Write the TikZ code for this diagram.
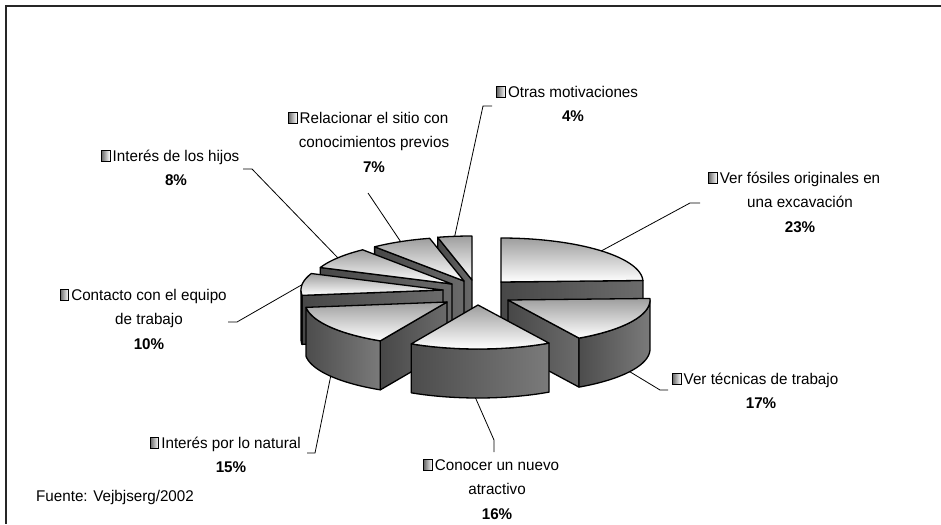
\documentclass[tikz,border=0pt]{standalone}
\usepackage{fontspec}
\setmainfont{Liberation Sans}[FakeStretch=0.98]
\usetikzlibrary{calc}

% pie size (px)
\newcommand{\pierx}{142}
\newcommand{\piery}{44}
\newcommand{\pieh}{49}

% legend key in front of a label
\newcommand{\keysq}{\llap{\tikz[baseline=0pt]\draw[line width=0.6pt, left color=black!60, right color=white] (0pt,-0.5pt) rectangle (8.5pt,10.5pt);\hspace{2.5pt}}}

% faces of one slice: apex x, apex y, angles (clockwise from top)
\newcommand{\pietop}[4]{%
  \draw[topface] (#1,#2) -- plot[domain=#3:#4, samples=40] ({#1+\pierx*sin(\x)},{#2-\piery*cos(\x)}) -- cycle;}
\newcommand{\pieside}[3]{%
  \draw[sideface] (#1,#2) -- ({#1+\pierx*sin(#3)},{#2-\piery*cos(#3)}) -- ++(0,\pieh) -- (#1,#2+\pieh) -- cycle;}
\newcommand{\piewall}[4]{%
  \draw[wallface] plot[domain=#3:#4, samples=40] ({#1+\pierx*sin(\x)},{#2-\piery*cos(\x)}) -- plot[domain=#4:#3, samples=40] ({#1+\pierx*sin(\x)},{#2-\piery*cos(\x)+\pieh}) -- cycle;}

\begin{document}
\begin{tikzpicture} [
    x=1pt, y=-1pt,
    topface/.style={draw=black, line width=1.3pt, line join=round, top color=black!38, bottom color=white},
    sideface/.style={draw=black, line width=1.3pt, line join=round, left color=black!72, right color=black!58},
    wallface/.style={draw=black, line width=1.3pt, line join=round, left color=black!70, right color=black!52},
    label/.style={font=\fontsize{15.5}{24.5}\selectfont, align=center, inner sep=0pt, anchor=base},
    leader/.style={draw=black, line width=0.8pt},
    frame/.style={draw=black!85, line width=2pt}
]
\useasboundingbox (0,0) rectangle (941,524);
\draw[frame] (941,6.5) -| (5.5,524);

% slices, back to front
\pieside{472}{280}{346} \pietop{472}{280}{346}{360}
\pieside{464}{281}{321} \pietop{464}{281}{321}{346}
\pieside{501}{282}{88}  \pietop{501}{282}{0}{88}
\pieside{452}{284}{292} \pietop{452}{284}{292}{321}
\pieside{443}{290}{263} \piewall{443}{290}{263}{270} \pietop{443}{290}{263}{292}
\pieside{508}{300}{150} \piewall{508}{300}{90}{150}  \pietop{508}{300}{88}{150}
\pieside{447}{302}{208} \piewall{447}{302}{208}{263} \pietop{447}{302}{208}{263}
\piewall{478}{305}{150}{208} \pietop{478}{305}{150}{208}

% labels (base = last line)
\node[label] (otras) at (573,121.5) {\keysq Otras motivaciones\\\textbf{4\%}};
\node[label] (relac) at (374,172) {\keysq Relacionar el sitio con\\conocimientos previos\\\textbf{7\%}};
\node[label] (hijos) at (176,185.5) {\keysq Interés de los hijos\\\textbf{8\%}};
\node[label] (contacto) at (149,349) {\keysq Contacto con el equipo\\de trabajo\\\textbf{10\%}};
\node[label] (natural) at (231,472.5) {\keysq Interés por lo natural\\\textbf{15\%}};
\node[label] (conocer) at (497,519) {\keysq Conocer un nuevo\\atractivo\\\textbf{16\%}};
\node[label] (tecnicas) at (761,408.5) {\keysq Ver técnicas de trabajo\\\textbf{17\%}};
\node[label] (fosiles) at (800,232) {\keysq Ver fósiles originales en\\una excavación\\\textbf{23\%}};
\node[label, anchor=base west] (fuente) at (36,501) {Fuente: Vejbjserg/2002};

% leader lines
\coordinate (rimH) at ({472+\pierx*sin(353)},{280-\piery*cos(353)});
\coordinate (rimG) at ({464+\pierx*sin(333.5)},{281-\piery*cos(333.5)});
\coordinate (rimF) at ({452+\pierx*sin(306.5)},{284-\piery*cos(306.5)});
\coordinate (rimE) at ({443+\pierx*sin(277)},{290-\piery*cos(277)});
\coordinate (rimD) at ({447+\pierx*sin(235)},{302+\pieh-\piery*cos(235)});
\coordinate (rimC) at ({478+\pierx*sin(181)},{305+\pieh-\piery*cos(181)});
\coordinate (rimB) at ({508+\pierx*sin(121)},{300+\pieh-\piery*cos(121)});
\coordinate (rimA) at ({501+\pierx*sin(45)},{282-\piery*cos(45)});

\draw[leader] (rimH) -- (483,106) coordinate (kneeH) -- (492,106) coordinate (endH);
\draw[leader] (rimG) -- (368,193) coordinate (endG);
\draw[leader] (rimF) -- (252,169) coordinate (kneeF) -- (243,169) coordinate (endF);
\draw[leader] (rimE) -- (237,322) coordinate (kneeE) -- (228,322) coordinate (endE);
\draw[leader] (rimD) -- (315,453) coordinate (kneeD) -- (307,453) coordinate (endD);
\draw[leader] (rimC) -- (494,440) coordinate (kneeC) -- (494,452) coordinate (endC);
\draw[leader] (rimB) -- (660,390) coordinate (kneeB) -- (668,390) coordinate (endB);
\draw[leader] (rimA) -- (690,203) coordinate (kneeA) -- (700,203) coordinate (endA);

\end{tikzpicture}
\end{document}
